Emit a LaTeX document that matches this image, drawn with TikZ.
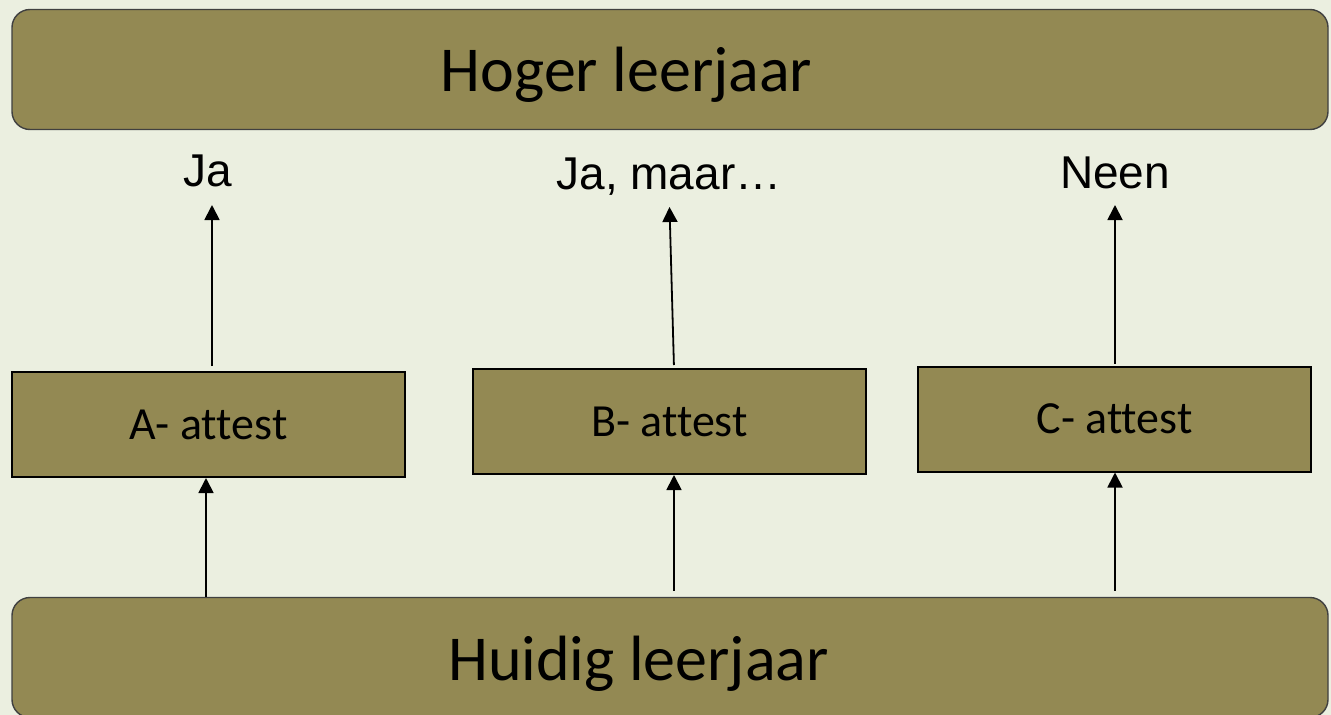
\documentclass[tikz,border=0pt]{standalone}
\usepackage{fontspec}
\setmainfont{Carlito}[Ligatures={NoCommon}]
\newfontfamily\arialfont{Liberation Sans}
\usetikzlibrary{positioning, arrows.meta}
\definecolor{bgcol}{HTML}{EBEFE0}
\definecolor{olive}{HTML}{938953}
\tikzset{
x=1pt, y=-1pt, % coordinates in pixels, y going down
>={Triangle[length=15pt, width=15pt]}, % makes the arrow heads bold
levelbox/.style={draw=black!75, line width=1.4pt, fill=olive, rounded corners=18pt, minimum width=1316pt, minimum height=120pt}, % the two year boxes
attestbox/.style={draw=black, line width=2pt, fill=olive, minimum width=393pt, minimum height=105pt, font=\fontsize{46}{50}\selectfont}, % the attest boxes
leveltext/.style={anchor=base, inner sep=0pt, font=\fontsize{64}{70}\selectfont}, % text in the year boxes
answer/.style={anchor=base, inner sep=0pt, font=\arialfont\fontsize{46}{50}\selectfont}, % Ja / Neen labels
arr/.style={->, line width=1.8pt}, % the arrows
}
\begin{document}
\begin{tikzpicture}
    \fill[bgcol] (0,0) rectangle (1331,715);
    \useasboundingbox (0,0) rectangle (1331,715);
    % year boxes
    \node[levelbox] (hoger) at (670,69.5) {};
    \node[levelbox] (huidig) at (670,657.5) {};
    \node[leveltext] (hogertxt) at (626.5,91) {Hoger leerjaar};
    \node[leveltext] (huidigtxt) at (638.5,680) {Huidig leerjaar};
    % attests
    \node[attestbox] (A) at (208.5,424.5) {A- attest};
    \node[attestbox] (B) at (669.5,421.5) {B- attest};
    \node[attestbox] (C) at (1114.5,419) {C- attest};
    % answers
    \node[answer] (ja) at (208,186) {Ja};
    \node[answer] (jamaar) at (669,189) {Ja, maar\ldots};
    \node[answer] (neen) at (1115,188) {Neen};
    % arrows up to the answers
    \draw[arr, shorten <=5pt, shorten >=19pt] ([xshift=3.5pt]A.north) -- ([xshift=4pt]ja.base);
    \draw[arr, shorten <=3pt, shorten >=18pt] ([xshift=4.5pt]B.north) -- (jamaar.base);
    \draw[arr, shorten <=2pt, shorten >=17pt] ([xshift=0.5pt]C.north) -- (neen.base);
    % arrows from the current year
    \draw[arr] ([xshift=-2.5pt]A.south |- huidig.north) -- ([xshift=-2.5pt]A.south);
    \draw[arr, shorten <=6pt] ([xshift=4.5pt]B.south |- huidig.north) -- ([xshift=4.5pt]B.south);
    \draw[arr, shorten <=6pt] ([xshift=0.5pt]C.south |- huidig.north) -- ([xshift=0.5pt]C.south);
\end{tikzpicture}
\end{document}
